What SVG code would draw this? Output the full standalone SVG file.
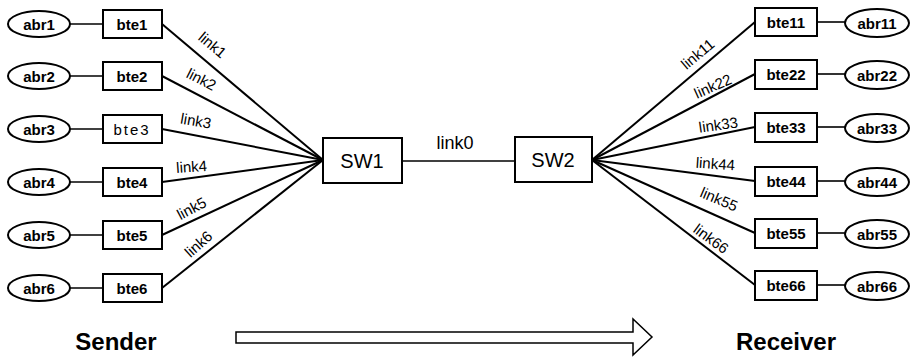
<svg xmlns="http://www.w3.org/2000/svg" width="912" height="360" viewBox="0 0 912 360">
<style>
.bg{fill:#fff}
.box{fill:#fff;stroke:#000;stroke-width:2}
.ell{fill:#fff;stroke:#000;stroke-width:2}
.ln{stroke:#000;stroke-width:2;fill:none}
.thin{stroke:#000;stroke-width:1.6;fill:none}
.lbl{font-family:"Liberation Sans",Arial,sans-serif;font-size:15px;font-weight:bold;text-anchor:middle;dominant-baseline:central}
.lk{font-family:"Liberation Sans",Arial,sans-serif;font-size:15px;text-anchor:middle}
.sw{font-family:"Liberation Sans",Arial,sans-serif;font-size:20px;text-anchor:middle;dominant-baseline:central}
.big{font-family:"Liberation Sans",Arial,sans-serif;font-size:24px;font-weight:bold;text-anchor:middle}
</style>
<rect class="bg" x="0" y="0" width="912" height="360"/>
<g id="connectors">
<line class="thin" x1="70" y1="24" x2="103" y2="24"/>
<line class="thin" x1="70" y1="76" x2="103" y2="76"/>
<line class="thin" x1="70" y1="129" x2="103" y2="129"/>
<line class="thin" x1="70" y1="182" x2="103" y2="182"/>
<line class="thin" x1="70" y1="235" x2="103" y2="235"/>
<line class="thin" x1="70" y1="288" x2="103" y2="288"/>
<line class="ln" x1="162" y1="24" x2="323" y2="160"/>
<line class="ln" x1="162" y1="76" x2="323" y2="160"/>
<line class="ln" x1="162" y1="129" x2="323" y2="160"/>
<line class="ln" x1="162" y1="182" x2="323" y2="160"/>
<line class="ln" x1="162" y1="235" x2="323" y2="160"/>
<line class="ln" x1="162" y1="288" x2="323" y2="160"/>
<line class="thin" x1="402" y1="161" x2="515" y2="161"/>
<line class="ln" x1="592" y1="160" x2="755" y2="22"/>
<line class="ln" x1="592" y1="160" x2="755" y2="74"/>
<line class="ln" x1="592" y1="160" x2="755" y2="127"/>
<line class="ln" x1="592" y1="160" x2="755" y2="181"/>
<line class="ln" x1="592" y1="160" x2="755" y2="233"/>
<line class="ln" x1="592" y1="160" x2="755" y2="285"/>
<line class="thin" x1="817" y1="22" x2="845" y2="22"/>
<line class="thin" x1="817" y1="74" x2="845" y2="74"/>
<line class="thin" x1="817" y1="127" x2="845" y2="127"/>
<line class="thin" x1="817" y1="181" x2="845" y2="181"/>
<line class="thin" x1="817" y1="233" x2="845" y2="233"/>
<line class="thin" x1="817" y1="285" x2="845" y2="285"/>
<text class="lk" transform="translate(209,49) rotate(40)">link1</text>
<text class="lk" transform="translate(199,84) rotate(27)">link2</text>
<text class="lk" transform="translate(195,126) rotate(10)">link3</text>
<text class="lk" transform="translate(192,172) rotate(-4)">link4</text>
<text class="lk" transform="translate(194,213) rotate(-28)">link5</text>
<text class="lk" transform="translate(202,248) rotate(-42)">link6</text>
<text class="lk" x="455" y="149" style="font-size:18px">link0</text>
<text class="lk" transform="translate(701,58) rotate(-40)">link11</text>
<text class="lk" transform="translate(715,91) rotate(-24)">link22</text>
<text class="lk" transform="translate(719,130) rotate(-8)">link33</text>
<text class="lk" transform="translate(715,169) rotate(4)">link44</text>
<text class="lk" transform="translate(717,204) rotate(23)">link55</text>
<text class="lk" transform="translate(708,243) rotate(36)">link66</text>
</g>
<g id="abr1"><ellipse class="ell" cx="39" cy="24" rx="31" ry="13"/><text class="lbl" x="39" y="24">abr1</text></g>
<g id="abr2"><ellipse class="ell" cx="39" cy="76" rx="31" ry="13"/><text class="lbl" x="39" y="76">abr2</text></g>
<g id="abr3"><ellipse class="ell" cx="39" cy="129" rx="31" ry="13"/><text class="lbl" x="39" y="129">abr3</text></g>
<g id="abr4"><ellipse class="ell" cx="39" cy="182" rx="31" ry="13"/><text class="lbl" x="39" y="182">abr4</text></g>
<g id="abr5"><ellipse class="ell" cx="39" cy="235" rx="31" ry="13"/><text class="lbl" x="39" y="235">abr5</text></g>
<g id="abr6"><ellipse class="ell" cx="39" cy="288" rx="31" ry="13"/><text class="lbl" x="39" y="288">abr6</text></g>
<g id="bte1"><rect class="box" x="103" y="10" width="59" height="28"/><text class="lbl" x="132" y="24">bte1</text></g>
<g id="bte2"><rect class="box" x="103" y="62" width="59" height="28"/><text class="lbl" x="132" y="76">bte2</text></g>
<g id="bte3"><rect class="box" x="103" y="115" width="59" height="28"/><text class="lbl" x="132" y="129" style="font-weight:normal;letter-spacing:2px">bte3</text></g>
<g id="bte4"><rect class="box" x="103" y="168" width="59" height="28"/><text class="lbl" x="132" y="182">bte4</text></g>
<g id="bte5"><rect class="box" x="103" y="221" width="59" height="28"/><text class="lbl" x="132" y="235">bte5</text></g>
<g id="bte6"><rect class="box" x="103" y="274" width="59" height="28"/><text class="lbl" x="132" y="288">bte6</text></g>
<g id="SW1"><rect class="box" x="323" y="138" width="79" height="45"/><text class="sw" x="362" y="161">SW1</text></g>
<g id="SW2"><rect class="box" x="515" y="137" width="77" height="45"/><text class="sw" x="553" y="160">SW2</text></g>
<g id="bte11"><rect class="box" x="755" y="8" width="62" height="28"/><text class="lbl" x="786" y="22">bte11</text></g>
<g id="bte22"><rect class="box" x="755" y="60" width="62" height="29"/><text class="lbl" x="786" y="74">bte22</text></g>
<g id="bte33"><rect class="box" x="755" y="113" width="62" height="29"/><text class="lbl" x="786" y="127">bte33</text></g>
<g id="bte44"><rect class="box" x="755" y="167" width="62" height="29"/><text class="lbl" x="786" y="181">bte44</text></g>
<g id="bte55"><rect class="box" x="755" y="219" width="62" height="29"/><text class="lbl" x="786" y="233">bte55</text></g>
<g id="bte66"><rect class="box" x="755" y="271" width="62" height="29"/><text class="lbl" x="786" y="285">bte66</text></g>
<g id="abr11"><ellipse class="ell" cx="877" cy="23" rx="32" ry="14"/><text class="lbl" x="877" y="23">abr11</text></g>
<g id="abr22"><ellipse class="ell" cx="877" cy="75" rx="32" ry="14"/><text class="lbl" x="877" y="75">abr22</text></g>
<g id="abr33"><ellipse class="ell" cx="877" cy="128" rx="32" ry="14"/><text class="lbl" x="877" y="128">abr33</text></g>
<g id="abr44"><ellipse class="ell" cx="877" cy="182" rx="32" ry="14"/><text class="lbl" x="877" y="182">abr44</text></g>
<g id="abr55"><ellipse class="ell" cx="877" cy="234" rx="32" ry="14"/><text class="lbl" x="877" y="234">abr55</text></g>
<g id="abr66"><ellipse class="ell" cx="877" cy="286" rx="32" ry="14"/><text class="lbl" x="877" y="286">abr66</text></g>
<g id="direction">
<path d="M236,332 L633,332 L633,319 L652,337 L633,355 L633,343 L236,343 Z" fill="#fff" stroke="#000" stroke-width="1.5" stroke-linejoin="miter"/>
</g>
<text class="big" x="116" y="350">Sender</text>
<text class="big" x="786" y="350">Receiver</text>
</svg>
